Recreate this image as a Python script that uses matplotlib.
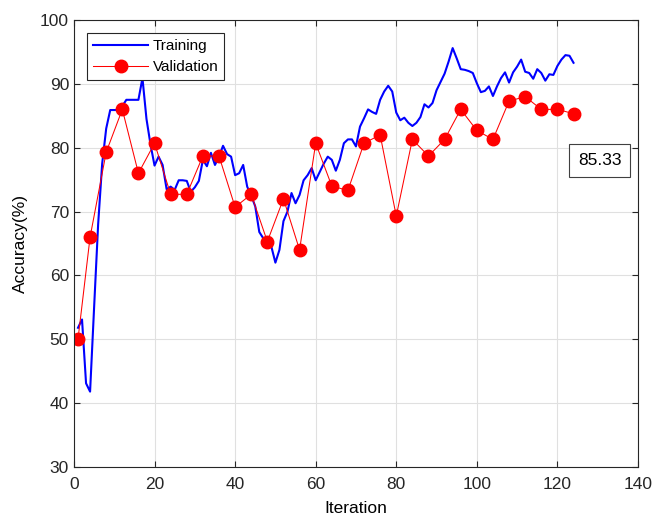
import numpy as np
import matplotlib
matplotlib.use("Agg")
import matplotlib.pyplot as plt

plt.rcParams['font.family'] = ['Liberation Sans', 'DejaVu Sans']

# training accuracy, one value per iteration (1..124)
train_acc = [
    51.8, 53.1, 43.1, 41.8, 55.0, 68.0, 77.5, 83.0, 85.9, 85.9,
    85.9, 86.5, 87.5, 87.5, 87.5, 87.5, 90.9, 84.5, 80.5, 77.2,
    78.6, 77.3, 73.5, 73.9, 73.4, 74.9, 74.9, 74.8, 73.1, 73.8,
    74.8, 78.1, 77.1, 79.2, 77.3, 78.6, 80.3, 79.0, 78.6, 75.7,
    76.0, 77.3, 73.9, 72.5, 70.8, 66.8, 65.8, 65.5, 64.5, 62.0,
    64.0, 68.5, 70.0, 72.9, 71.3, 72.6, 74.9, 75.7, 76.8, 74.9,
    76.2, 77.5, 78.6, 78.1, 76.4, 78.1, 80.7, 81.3, 81.3, 80.2,
    83.3, 84.6, 86.0, 85.6, 85.3, 87.5, 88.8, 89.7, 88.8, 85.5,
    84.3, 84.7, 83.9, 83.4, 83.9, 84.8, 86.8, 86.3, 87.0, 89.0,
    90.3, 91.6, 93.5, 95.6, 94.0, 92.3, 92.2, 92.0, 91.7, 90.1,
    88.7, 88.9, 89.6, 88.1, 89.6, 90.9, 91.8, 90.2, 91.8, 92.7,
    93.8, 91.9, 91.7, 90.8, 92.3, 91.7, 90.5, 91.5, 91.4, 92.8,
    93.8, 94.5, 94.4, 93.3,
]
train_iter = np.arange(1, len(train_acc) + 1)

val_iter = [1, 4, 8, 12, 16, 20, 24, 28, 32, 36, 40, 44, 48, 52, 56, 60,
            64, 68, 72, 76, 80, 84, 88, 92, 96, 100, 104, 108, 112, 116, 120, 124]
val_acc = [50.0, 66.0, 79.3, 86.0, 76.0, 80.7, 72.7, 72.7, 78.7, 78.7, 70.7,
           72.7, 65.3, 72.0, 64.0, 80.7, 74.0, 73.3, 80.7, 82.0, 69.3, 81.3,
           78.7, 81.3, 86.0, 82.7, 81.3, 87.3, 88.0, 86.0, 86.0, 85.33]

x_ticks = [0, 20, 40, 60, 80, 100, 120, 140]
y_ticks = [30, 40, 50, 60, 70, 80, 90, 100]

fig = plt.figure(figsize=(6.54, 5.18), dpi=100)
ax = fig.add_axes([0.1131, 0.0985, 0.8624, 0.8629])

ax.plot(train_iter, train_acc, color='#0000ff', linewidth=1.5, label='Training')
ax.plot(val_iter, val_acc, color='#ff0000', linewidth=0.75, marker='o',
        markersize=9, label='Validation')

ax.set_xlim(0, 140)
ax.set_ylim(30, 100)
ax.set_xticks(x_ticks)
ax.set_yticks(y_ticks)
ax.grid(True, color='#e0e0e0', linewidth=0.8)
ax.set_axisbelow(True)
ax.tick_params(direction='in', top=True, right=True, length=4,
               labelsize=12.5, colors='#262626')
ax.tick_params(axis='x', pad=7)
for s in ax.spines.values():
    s.set_color('#262626')
    s.set_linewidth(0.8)

ax.set_xlabel('Iteration', fontsize=12.5, labelpad=7)
ax.set_ylabel('Accuracy(%)', fontsize=12.5, labelpad=9)

leg = ax.legend(loc='upper left', bbox_to_anchor=(0.023, 0.971), fontsize=11,
                handlelength=3.6, fancybox=False, framealpha=1,
                borderpad=0.4, labelspacing=0.45, handletextpad=0.3,
                borderaxespad=0)
leg.get_frame().set_edgecolor('#262626')
leg.get_frame().set_linewidth(0.8)

ax.text(130.5, 78.0, '85.33', fontsize=12.5, ha='center', va='center',
        bbox=dict(boxstyle='square,pad=0.5', facecolor='white',
                  edgecolor='#404040', linewidth=0.8))

fig.savefig('out.png', dpi=100)
